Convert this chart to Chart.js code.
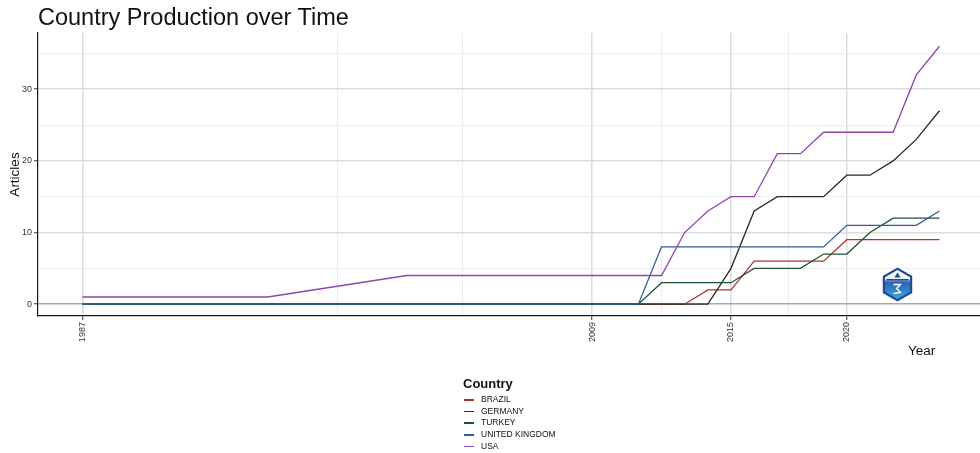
<!DOCTYPE html>
<html lang="en">
<head>
<meta charset="UTF-8">
<title>Country Production over Time</title>
<script src="https://cdn.jsdelivr.net/npm/chart.js@4.4.1/dist/chart.umd.min.js"></script>
<style>
    body { margin: 0; background: #fff; font-family: "Liberation Sans", Arial, sans-serif; }
    #wrap { position: relative; width: 980px; height: 453px; }
    #wrap canvas { position: absolute; left: 0; top: 0; }
    #title { position: absolute; left: 38px; top: 6px; font-size: 23.5px; line-height: 23px; color: #111; white-space: nowrap; }
    #xTitle { position: absolute; left: 908px; top: 344px; font-size: 13.5px; line-height: 14px; color: #111; }
    #legend { position: absolute; left: 463px; top: 376px; color: #111; }
    #legend .lt { font-weight: bold; font-size: 13px; line-height: 15px; margin-bottom: 3px; }
    #legend .row { height: 11.7px; line-height: 11.7px; font-size: 8.5px; white-space: nowrap; }
    #legend .sw { display: inline-block; width: 10px; height: 1.6px; margin: 0 7px 0 1px; vertical-align: middle; }
</style>
</head>
<body>
<div id="wrap">
    <canvas id="prodChart" width="980" height="453"></canvas>
    <div id="title">Country Production over Time</div>
    <div id="xTitle">Year</div>
    <div id="legend"><div class="lt">Country</div><div id="legendItems"></div></div>
</div>

<script>
    // values
    const years   = [1987, 1995, 2001, 2011, 2012, 2013, 2014, 2015, 2016, 2017, 2018, 2019, 2020, 2021, 2022, 2023, 2024]
    const brazil  = [0, 0, 0, 0, 0, 0, 2, 2, 6, 6, 6, 6, 9, 9, 9, 9, 9]
    const germany = [0, 0, 0, 0, 0, 0, 0, 5, 13, 15, 15, 15, 18, 18, 20, 23, 27]
    const turkey  = [0, 0, 0, 0, 3, 3, 3, 3, 5, 5, 5, 7, 7, 10, 12, 12, 12]
    const uk      = [0, 0, 0, 0, 8, 8, 8, 8, 8, 8, 8, 8, 11, 11, 11, 11, 13]
    const usa     = [1, 1, 4, 4, 4, 10, 13, 15, 15, 21, 21, 24, 24, 24, 24, 32, 36]

    const countries = ['BRAZIL', 'GERMANY', 'TURKEY', 'UNITED KINGDOM', 'USA']
    const series = [brazil, germany, turkey, uk, usa]
    const colors = ['#a83636', '#2a2a1e', '#1e5232', '#2f5c9c', '#8e44ad']

    const xMajorTicks = [1987, 2009, 2015, 2020]
    const xMinorTicks = [1998, 2003.4, 2012, 2017.5]
    const yMajorTicks = [0, 10, 20, 30]
    const yMinorTicks = [5, 15, 25, 35]

    Chart.defaults.font.family = '"Liberation Sans", Arial, sans-serif'

    const gridColor = (major, zero) => ctx => {
        const v = ctx.tick && ctx.tick.value
        if (zero !== undefined && v === zero) return '#a8a8a8'
        return major.includes(v) ? '#dcdcdc' : '#ececec'
    }
    const gridWidth = major => ctx => (major.includes(ctx.tick && ctx.tick.value) ? 1.5 : 1)
    const tickColor = major => ctx => (major.includes(ctx.tick && ctx.tick.value) ? '#333' : 'rgba(0,0,0,0)')

    const logo = {
        id: 'logo',
        afterDraw(chart) {
            const c = chart.ctx
            const cx = 897.5, cy = 284.5
            const hex = r => {
                c.beginPath()
                for (let k = 0; k < 6; k++) {
                    const a = (-90 + 60 * k) * Math.PI / 180
                    const px = cx + r * Math.cos(a), py = cy + r * Math.sin(a)
                    k ? c.lineTo(px, py) : c.moveTo(px, py)
                }
                c.closePath()
            }
            c.save()
            hex(17)
            c.fillStyle = '#1d4a92'
            c.fill()
            const g = c.createLinearGradient(0, cy - 15, 0, cy + 15)
            g.addColorStop(0, '#ffffff')
            g.addColorStop(0.3, '#f2f6fb')
            g.addColorStop(0.42, '#2c63b4')
            g.addColorStop(1, '#37a7df')
            hex(14.5)
            c.fillStyle = g
            c.fill()
            c.fillStyle = '#1d4a92'
            c.fillRect(cx - 11, cy - 5.5, 22, 1.5)
            c.beginPath()
            c.moveTo(cx, cy - 12); c.lineTo(cx - 3, cy - 7); c.lineTo(cx + 3, cy - 7)
            c.closePath()
            c.fill()
            c.strokeStyle = '#ffffff'
            c.lineWidth = 1.4
            c.beginPath()
            c.moveTo(cx - 4, cy); c.lineTo(cx + 3, cy); c.lineTo(cx - 1, cy + 4)
            c.lineTo(cx + 3, cy + 8); c.lineTo(cx - 4, cy + 9)
            c.stroke()
            c.restore()
        }
    }

    new Chart(document.getElementById('prodChart'), {
        type: 'line',
        data: {
            datasets: countries.map((name, i) => ({
                label: name,
                data: years.map((yr, j) => ({x: yr, y: series[i][j]})),
                borderColor: colors[i],
                backgroundColor: colors[i],
                borderWidth: 1.3,
                pointRadius: 0,
                tension: 0,
                order: countries.length - 1 - i
            }))
        },
        options: {
            responsive: false,
            animation: false,
            layout: {padding: {left: 0, top: 33, right: 0, bottom: 93}},
            plugins: {legend: {display: false}, tooltip: {enabled: false}},
            scales: {
                x: {
                    type: 'linear',
                    min: 1985.08,
                    max: 2025.75,
                    afterBuildTicks: s => { s.ticks = [...xMajorTicks, ...xMinorTicks].sort((a, b) => a - b).map(v => ({value: v})) },
                    afterFit: s => { s.height = 44 },
                    ticks: {
                        autoSkip: false,
                        minRotation: 90,
                        maxRotation: 90,
                        padding: 2,
                        color: '#333',
                        font: {size: 9},
                        callback: v => (xMajorTicks.includes(v) ? String(v) : '')
                    },
                    grid: {color: gridColor(xMajorTicks), lineWidth: gridWidth(xMajorTicks), tickColor: tickColor(xMajorTicks), tickLength: 4, tickWidth: 1},
                    border: {color: '#1a1a1a', width: 1.2}
                },
                y: {
                    min: -1.65,
                    max: 37.85,
                    afterBuildTicks: s => { s.ticks = [...yMajorTicks, ...yMinorTicks].sort((a, b) => a - b).map(v => ({value: v})) },
                    afterFit: s => { s.width = 38 },
                    ticks: {
                        autoSkip: false,
                        padding: 2,
                        color: '#333',
                        font: {size: 9},
                        callback: v => (yMajorTicks.includes(v) ? String(v) : '')
                    },
                    grid: {color: gridColor(yMajorTicks, 0), lineWidth: gridWidth(yMajorTicks), tickColor: tickColor(yMajorTicks), tickLength: 4, tickWidth: 1},
                    border: {color: '#1a1a1a', width: 1.2},
                    title: {display: true, text: 'Articles', color: '#111', font: {size: 13.5}, padding: {top: 7, bottom: 0}}
                }
            }
        },
        plugins: [logo]
    })

    const items = document.getElementById('legendItems')
    countries.forEach((name, i) => {
        const row = document.createElement('div')
        row.className = 'row'
        row.innerHTML = '<span class="sw" style="background:' + colors[i] + '"></span>' + name
        items.appendChild(row)
    })
</script>
</body>
</html>
